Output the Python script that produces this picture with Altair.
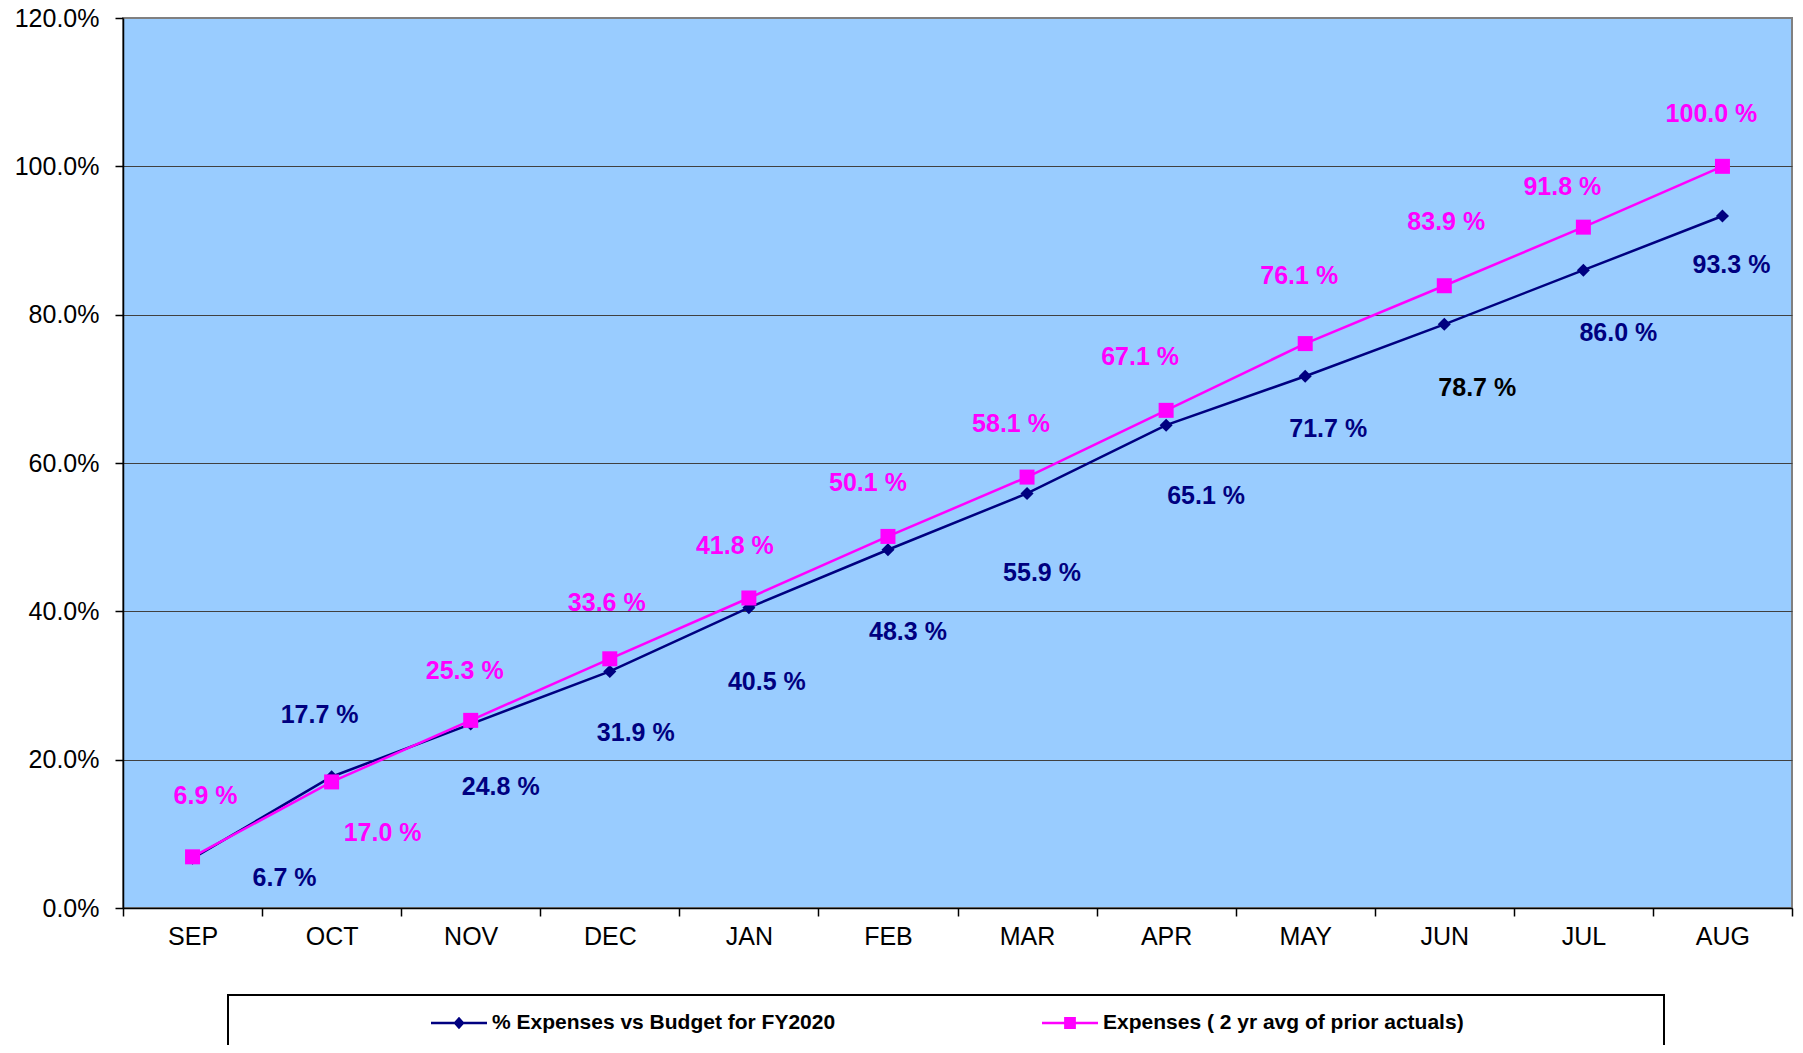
import altair as alt
import pandas as pd

months = ["SEP", "OCT", "NOV", "DEC", "JAN", "FEB", "MAR", "APR", "MAY", "JUN", "JUL", "AUG"]
budget_pct = [6.7, 17.7, 24.8, 31.9, 40.5, 48.3, 55.9, 65.1, 71.7, 78.7, 86.0, 93.3]
prior_pct = [6.9, 17.0, 25.3, 33.6, 41.8, 50.1, 58.1, 67.1, 76.1, 83.9, 91.8, 100.0]
series_names = ["% Expenses vs Budget for FY2020", "Expenses ( 2 yr avg of prior actuals)"]
y_ticks = [0, 20, 40, 60, 80, 100, 120]

rows = []
for name, vals in zip(series_names, [budget_pct, prior_pct]):
    for m, v in zip(months, vals):
        rows.append({"month": m, "series": name, "value": v})
df = pd.DataFrame(rows)

FONT = "Liberation Sans"
NAVY = "#000080"
PINK = "#FF00FF"

# label placement (pixel offsets from each marker), as in the original chart
blue_label_offsets = {
    "SEP": (92, 20), "OCT": (-12, -62), "NOV": (30, 63), "DEC": (26, 62),
    "JAN": (18, 74), "FEB": (20, 82), "MAR": (15, 80), "APR": (40, 71),
    "MAY": (23, 53), "JUN": (33, 64), "JUL": (35, 63), "AUG": (9, 49),
}
pink_label_offsets = {
    "SEP": (13, -61), "OCT": (51, 51), "NOV": (-6, -49), "DEC": (-3, -56),
    "JAN": (-14, -52), "FEB": (-20, -53), "MAR": (-16, -53), "APR": (-26, -53),
    "MAY": (-6, -68), "JUN": (2, -64), "JUL": (-21, -40), "AUG": (-11, -52),
}

x_enc = alt.X(
    "month:O", sort=months, bandPosition=0.5,
    scale=alt.Scale(type="band", paddingInner=0, paddingOuter=0),
    axis=alt.Axis(title=None, tickBand="extent", labelAngle=0, labelFont=FONT,
                  labelFontSize=25, labelColor="black", labelPadding=8,
                  tickColor="black", tickSize=8, tickWidth=1.5,
                  domainColor="black", domainWidth=1.5, grid=False),
)
y_enc = alt.Y(
    "value:Q",
    scale=alt.Scale(domain=[0, 120], nice=False, zero=True),
    axis=alt.Axis(title=None, values=y_ticks,
                  labelExpr="format(datum.value / 100, '.1%')",
                  labelFont=FONT, labelFontSize=25, labelColor="black", labelPadding=16,
                  tickColor="black", tickSize=8, tickWidth=1.5,
                  domainColor="black", domainWidth=1.5,
                  grid=True, gridWidth=1,
                  gridColor=alt.condition("datum.value == 120", alt.value("#808080"), alt.value("#404040"))),
)

base = alt.Chart(df).encode(x=x_enc, y=y_enc)

label_calc = "format(datum.value, '.1f') + ' %'"

blue = base.transform_filter(alt.datum.series == series_names[0])
pink = base.transform_filter(alt.datum.series == series_names[1])

blue_line = blue.mark_line(color=NAVY, strokeWidth=2.5)
pink_line = pink.mark_line(color=PINK, strokeWidth=2.5)
blue_pts = blue.mark_point(shape="diamond", filled=True, color=NAVY, size=170, opacity=1)
pink_pts = pink.mark_point(shape="square", filled=True, color=PINK, size=225, opacity=1)

text_layers = []
for m in months:
    dx, dy = blue_label_offsets[m]
    color = "black" if m == "JUN" else NAVY
    text_layers.append(
        blue.transform_filter(alt.datum.month == m)
        .transform_calculate(label=label_calc)
        .mark_text(font=FONT, fontSize=25, fontWeight="bold", dx=dx, dy=dy, color=color)
        .encode(text="label:N")
    )
for m in months:
    dx, dy = pink_label_offsets[m]
    text_layers.append(
        pink.transform_filter(alt.datum.month == m)
        .transform_calculate(label=label_calc)
        .mark_text(font=FONT, fontSize=25, fontWeight="bold", dx=dx, dy=dy, color=PINK)
        .encode(text="label:N")
    )

# legend symbols: line with marker (unit coordinates)
diamond_sym = ("M-1,-0.045L1,-0.045L1,0.045L-1,0.045Z "
               "M0,-0.22L0.2,0L0,0.22L-0.2,0Z")
square_sym = ("M-1,-0.045L1,-0.045L1,0.045L-1,0.045Z "
              "M-0.21,-0.21L0.21,-0.21L0.21,0.21L-0.21,0.21Z")

leg = alt.Legend(title=None, orient="none", legendX=308, legendY=977,
                 direction="horizontal", symbolSize=3136, symbolOpacity=1,
                 symbolStrokeWidth=0, labelFont=FONT, labelFontSize=21,
                 labelFontWeight="bold", labelColor="black", labelOffset=5,
                 columnPadding=206, padding=0, labelLimit=600)

legend_layer = base.mark_point(filled=True, opacity=0).encode(
    color=alt.Color("series:N", scale=alt.Scale(domain=series_names, range=[NAVY, PINK]), legend=leg),
    shape=alt.Shape("series:N", scale=alt.Scale(domain=series_names, range=[diamond_sym, square_sym]), legend=leg),
)

box = alt.Chart(alt.Data(values=[{"k": 0}])).mark_rect(
    fill="white", fillOpacity=0, stroke="black", strokeWidth=2
).encode(x=alt.value(105), x2=alt.value(1541), y=alt.value(977), y2=alt.value(1120))

chart = alt.layer(
    blue_line, pink_line, blue_pts, pink_pts, *text_layers, legend_layer, box
).properties(
    width=1669, height=890,
    autosize=alt.AutoSizeParams(type="none"),
    padding={"left": 115, "top": 10, "right": 3, "bottom": 137},
).configure_view(fill="#99CCFF", stroke="#808080", strokeWidth=2)

chart.save("out.html", embed_options={"renderer": "svg", "actions": False})
